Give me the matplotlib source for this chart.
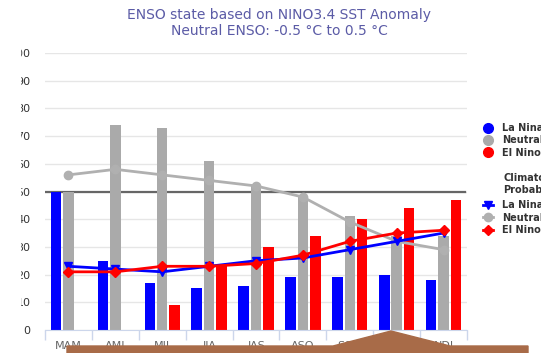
import matplotlib.pyplot as plt
import numpy as np
from matplotlib.lines import Line2D
from matplotlib.patches import Polygon, Rectangle

# -------------------------
# Data
# -------------------------
seasons = ["MAM", "AMJ", "MJJ", "JJA", "JAS", "ASO", "SON", "OND", "NDJ"]
la_nina = [50, 25, 17, 15, 16, 19, 19, 20, 18]
neutral = [50, 74, 73, 61, 52, 48, 41, 34, 34]
el_nino = [0, 0, 9, 23, 30, 34, 40, 44, 47]

clim_la_nina = [23, 22, 21, 23, 25, 26, 29, 32, 35]
clim_neutral = [56, 58, 56, 54, 52, 48, 39, 32, 29]
clim_el_nino = [21, 21, 23, 23, 24, 27, 32, 35, 36]

yticks = [0, 10, 20, 30, 40, 50, 60, 70, 80, 90, 100]

# -------------------------
# Plot
# -------------------------
W, H = 541, 353
fig = plt.figure(figsize=(W / 100, H / 100), dpi=100)
ax = fig.add_axes([45 / W, (H - 330) / H, 422 / W, 277 / H])

x = np.arange(len(seasons))
bw = 0.225
off = 0.265
ax.bar(x - off, la_nina, bw, color="#0000ff", zorder=2)
ax.bar(x, neutral, bw, color="#aaaaaa", zorder=2)
ax.bar(x + off, el_nino, bw, color="#ff0000", zorder=2)

ax.axhline(50, xmin=0, xmax=0.995, color="#666666", lw=1.6, zorder=1.5)

ax.plot(x, clim_neutral, color="#b0b0b0", lw=2, marker="o", ms=6, zorder=3)
ax.plot(x, clim_la_nina, color="#0000ff", lw=2, marker="v", ms=6, zorder=4)
ax.plot(x, clim_el_nino, color="#ff0000", lw=2, marker="D", ms=5, zorder=4)

ax.set_xlim(-0.5, len(seasons) - 0.5)
ax.set_ylim(0, 100)
ax.set_yticks(yticks)
ax.set_yticklabels([str(v) for v in yticks])
ax.grid(axis="y", color="#e6e6e6", lw=1, zorder=0)
ax.set_axisbelow(True)

ax.set_xticks(x)
ax.set_xticklabels(seasons)
ax.set_xticks(np.arange(-0.5, len(seasons)), minor=True)
ax.tick_params(axis="x", which="major", length=0, pad=8, labelsize=8, labelcolor="#666666")
ax.tick_params(axis="x", which="minor", length=7, color="#ccd6eb", width=1)
ax.tick_params(axis="y", length=0, pad=10.5, labelsize=8, labelcolor="#333333")

for s in ["top", "right", "left"]:
    ax.spines[s].set_visible(False)
ax.spines["bottom"].set_color("#ccd6eb")

# Title
fig.text(279 / W, 1 - 23 / H, "ENSO state based on NINO3.4 SST Anomaly\nNeutral ENSO: -0.5 °C to 0.5 °C",
         ha="center", va="center", fontsize=10, color="#5b5ba6", linespacing=1.15)

# Legends
h1 = [Line2D([], [], ls="none", marker="o", ms=7, color=c) for c in ["#0000ff", "#aaaaaa", "#ff0000"]]
leg1 = fig.legend(h1, ["La Nina", "Neutral", "El Nino"], loc="upper left",
                  bbox_to_anchor=(483 / W, 1 - 123 / H), frameon=False, borderpad=0, borderaxespad=0,
                  handlelength=1.0, handletextpad=1.0, labelspacing=0.25,
                  prop={"size": 7, "weight": "bold"}, labelcolor="#333333")

h2 = [Line2D([], [], color="#0000ff", lw=2, marker="v", ms=6),
      Line2D([], [], color="#b0b0b0", lw=2, marker="o", ms=6),
      Line2D([], [], color="#ff0000", lw=2, marker="D", ms=5)]
leg2 = fig.legend(h2, ["La Nina", "Neutral", "El Nino"], loc="upper left",
                  bbox_to_anchor=(483 / W, 1 - 173 / H), frameon=False, borderpad=0, borderaxespad=0,
                  handlelength=1.0, handletextpad=1.0, labelspacing=0.25,
                  title="Climatology\nProbability", alignment="left",
                  title_fontproperties={"size": 7, "weight": "bold"},
                  prop={"size": 7, "weight": "bold"}, labelcolor="#333333")
leg2.get_title().set_color("#333333")
leg2.get_title().set_position((20, 0))
leg2._legend_box.sep = 4

# Page overlays that sit on top of the chart in the screenshot
fig.add_artist(Rectangle((0, 0), 19.5 / W, 1, transform=fig.transFigure, color="white", zorder=10))
pts = [(67, 360), (67, 346), (333, 346), (391, 331), (450, 346), (528, 346), (528, 360)]
fig.add_artist(Polygon([(px / W, 1 - py / H) for px, py in pts], closed=True,
                       transform=fig.transFigure, color="#a86b48", zorder=10))

plt.savefig("out.png", dpi=100)
